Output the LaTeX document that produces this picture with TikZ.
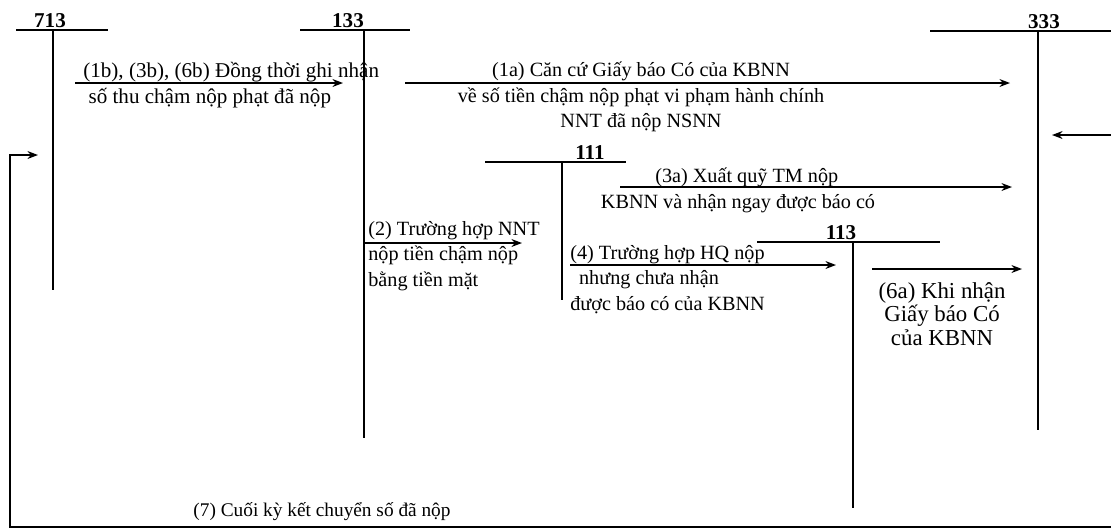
\documentclass[tikz,border=0pt]{standalone}
\usepackage{fontspec}
\setmainfont{Liberation Serif}
\usetikzlibrary{arrows.meta}
\tikzset{
  acct/.style={font=\bfseries\fontsize{12}{14}\selectfont, inner sep=1pt, anchor=south},
  lbl/.style={font=\fontsize{11.5}{14.5}\selectfont, inner sep=0pt},
  tline/.style={line width=1.1pt},
  flow/.style={-{Stealth[length=6pt,width=4.5pt]}, line width=0.8pt},
}
\begin{document}
\begin{tikzpicture}[x=0.02cm, y=-0.02cm]
        \useasboundingbox (0,0) rectangle (1111,529);
        % Accounts
        \draw (50,30)   node[acct] (n713) {713};
        \draw (348,30)  node[acct] (n133) {133};
        \draw (1044,31) node[acct] (n333) {333};
        \draw (590,162) node[acct] (n111) {111};
        \draw (841,242) node[acct] (n113) {113};
        \coordinate (t713) at (53,30);
        \coordinate (t133) at (364,30);
        \coordinate (t333) at (1038,31);
        \coordinate (t111) at (562,162);
        \coordinate (t113) at (853,242);
        \draw[tline] (t713) ++(-37,0) -- ++(92,0);  \draw[tline] (t713) -- ++(0,260);
        \draw[tline] (t133) ++(-64,0) -- ++(110,0); \draw[tline] (t133) -- ++(0,408);
        \draw[tline] (t333) ++(-108,0) -- ++(190,0); \draw[tline] (t333) -- ++(0,399);
        \draw[tline] (t111) ++(-77,0) -- ++(141,0); \draw[tline] (t111) -- ++(0,138);
        \draw[tline] (t113) ++(-96,0) -- ++(183,0); \draw[tline] (t113) -- ++(0,266);

        % Entries
        \coordinate (s1b) at (75,83);   \coordinate (e1b) at (343,83);
        \coordinate (s1a) at (405,83);  \coordinate (e1a) at (1010,83);
        \coordinate (s3a) at (620,187); \coordinate (e3a) at (1012,187);
        \coordinate (s2) at (364,243);  \coordinate (e2) at (522,243);
        \coordinate (s4) at (570,265);  \coordinate (e4) at (836,265);
        \coordinate (s6a) at (872,269); \coordinate (e6a) at (1022,269);
        \draw[flow] (s1b) -- (e1b);
        \draw[flow] (s1a) -- (e1a);
        \draw[flow] (s3a) -- (e3a);
        \draw[flow] (s2) -- (e2);
        \draw[flow] (s4) -- (e4);
        \draw[flow] (s6a) -- (e6a);
        \node[lbl, anchor=north west, align=left, font=\fontsize{12}{14.5}\selectfont] (l1b) at (83,62) {(1b), (3b), (6b) Đồng thời ghi nhận\\\hspace{3pt}số thu chậm nộp phạt đã nộp};
        \node[lbl, anchor=north, align=center] (l1a) at (641,62) {(1a) Căn cứ Giấy báo Có của KBNN\\về số tiền chậm nộp phạt vi phạm hành chính\\NNT đã nộp NSNN};
        \node[lbl, anchor=north, align=center] (l3a) at (738,168) {\hspace{10pt}(3a) Xuất quỹ TM nộp\\KBNN và nhận ngay được báo có};
        \node[lbl, anchor=north west, align=left] (l2) at (368,221) {(2) Trường hợp NNT\\nộp tiền chậm nộp\\bằng tiền mặt};
        \node[lbl, anchor=north west, align=left] (l4) at (570,245) {(4) Trường hợp HQ nộp\\\hspace{5pt}nhưng chưa nhận\\được báo có của KBNN};
        \node[lbl, anchor=north, align=center, font=\fontsize{13}{13.5}\selectfont] (l6a) at (942,282) {(6a) Khi nhận\\Giấy báo Có\\của KBNN};

        % Closing entry
        \coordinate (e7r) at (1052,135);
        \coordinate (e7l) at (38,155);
        \draw[{Stealth[length=6pt,width=4.5pt]}-{Stealth[length=6pt,width=4.5pt]}, line width=0.8pt] (e7r) -- (1125,135) |- (10,527) |- (e7l);
        \node[lbl, font=\fontsize{11}{13}\selectfont] (l7) at (322,512) {(7) Cuối kỳ kết chuyển số đã nộp};
\end{tikzpicture}
\end{document}
